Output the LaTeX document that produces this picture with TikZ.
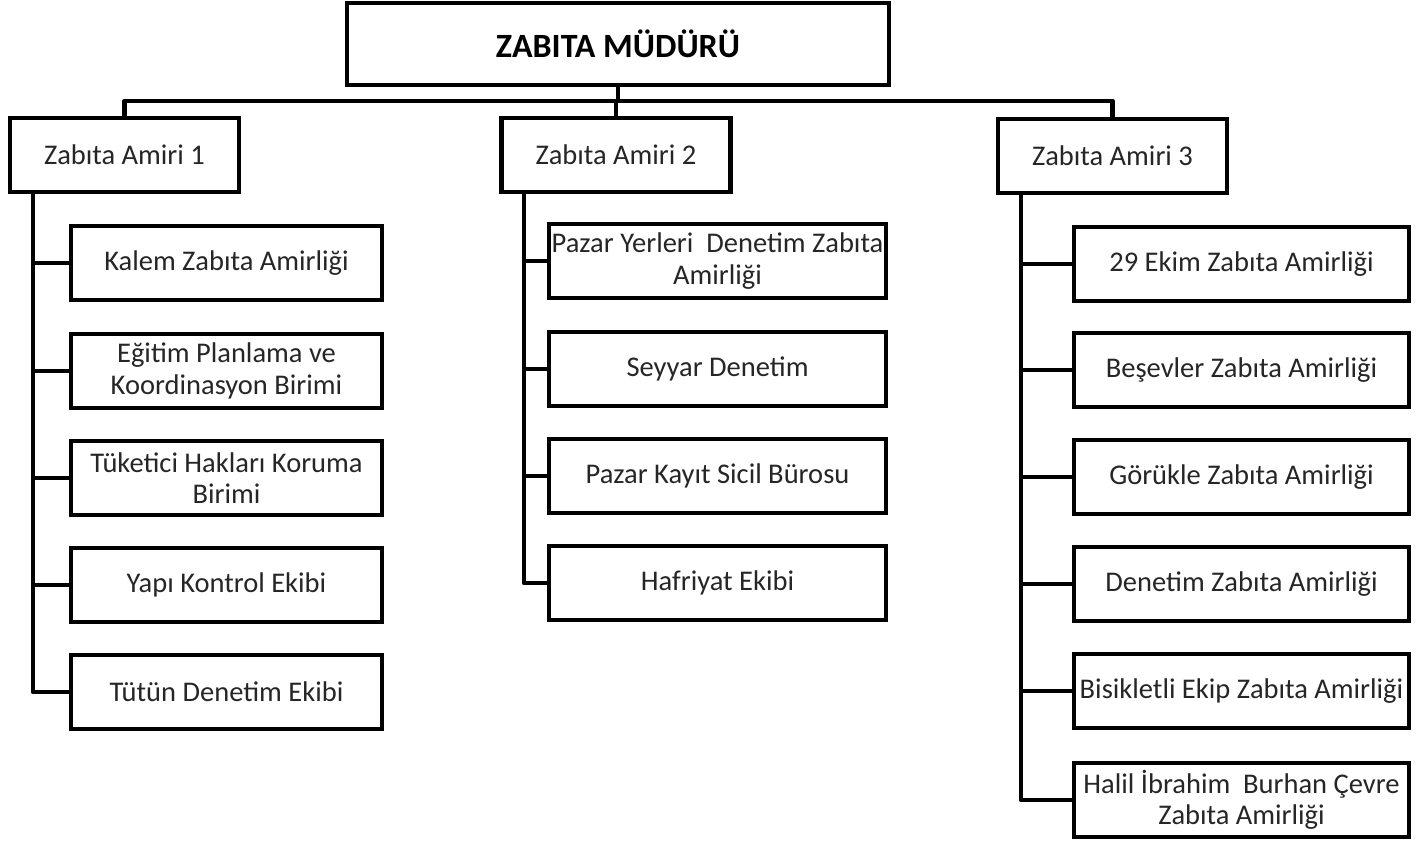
\documentclass[tikz,border=0pt]{standalone}
\usepackage{fontspec}
\setmainfont{Carlito}
\begin{document}
\begin{tikzpicture}[x=1pt,y=-1pt,
  box/.style={draw=black,line width=4.8pt,fill=white,inner sep=0pt,align=center,
    font=\fontsize{28.5}{31.5}\selectfont,text=black!85},
  topbox/.style={box,minimum width=542pt,minimum height=82pt,font=\bfseries\fontsize{34}{37}\selectfont,text=black},
  amir/.style={box,minimum width=229pt,minimum height=74pt},
  cA/.style={box,minimum width=311pt,minimum height=74pt},
  cB/.style={box,minimum width=337pt,minimum height=74pt},
  cC/.style={box,minimum width=335pt,minimum height=74pt},
  conn/.style={line width=4.8pt,draw=black,line join=round}]
\useasboundingbox (0,0) rectangle (1424,842);
\fill[white] (0,0) rectangle (1424,842);

\coordinate (busy) at (0,101);
\coordinate (t1) at (33,0);
\coordinate (t2) at (524,0);
\coordinate (t3) at (1021,0);

\node[topbox] (top) at (618,44) {ZABITA MÜDÜRÜ};
\node[amir] (a1) at (124.5,155) {Zabıta Amiri 1};
\node[amir] (a2) at (616,155) {Zabıta Amiri 2};
\node[amir] (a3) at (1112.5,156) {Zabıta Amiri 3};

\node[cA] (c11) at (226.5,263) {Kalem Zabıta Amirliği};
\node[cA] (c12) at (226.5,371) {Eğitim Planlama ve\\Koordinasyon Birimi};
\node[cA] (c13) at (226.5,478) {Tüketici Hakları Koruma\\Birimi};
\node[cA] (c14) at (226.5,585) {Yapı Kontrol Ekibi};
\node[cA] (c15) at (226.5,692) {Tütün Denetim Ekibi};

\node[cB] (c21) at (717.5,261) {Pazar Yerleri~ Denetim Zabıta\\Amirliği};
\node[cB] (c22) at (717.5,369) {Seyyar Denetim};
\node[cB] (c23) at (717.5,476) {Pazar Kayıt Sicil Bürosu};
\node[cB] (c24) at (717.5,583) {Hafriyat Ekibi};

\node[cC] (c31) at (1241.5,264) {29 Ekim Zabıta Amirliği};
\node[cC] (c32) at (1241.5,370) {Beşevler Zabıta Amirliği};
\node[cC] (c33) at (1241.5,477) {Görükle Zabıta Amirliği};
\node[cC] (c34) at (1241.5,584) {Denetim Zabıta Amirliği};
\node[cC] (c35) at (1241.5,691) {Bisikletli Ekip Zabıta Amirliği};
\node[cC] (c36) at (1241.5,800) {Halil İbrahim~ Burhan Çevre\\Zabıta Amirliği};

% bus
\draw[conn] (top.south) -- (top.south |- busy);
\draw[conn] (a1.north) -- (a1.north |- busy) -- (a3.north |- busy) -- (a3.north);
\draw[conn] (a2.north) -- (a2.north |- busy);

% trunks
\draw[conn] (a1.south -| t1) -- (c15.west -| t1) -- (c15.west);
\foreach \c in {c11,c12,c13,c14} \draw[conn] (\c.west -| t1) -- (\c.west);
\draw[conn] (a2.south -| t2) -- (c24.west -| t2) -- (c24.west);
\foreach \c in {c21,c22,c23} \draw[conn] (\c.west -| t2) -- (\c.west);
\draw[conn] (a3.south -| t3) -- (c36.west -| t3) -- (c36.west);
\foreach \c in {c31,c32,c33,c34,c35} \draw[conn] (\c.west -| t3) -- (\c.west);
\end{tikzpicture}
\end{document}
